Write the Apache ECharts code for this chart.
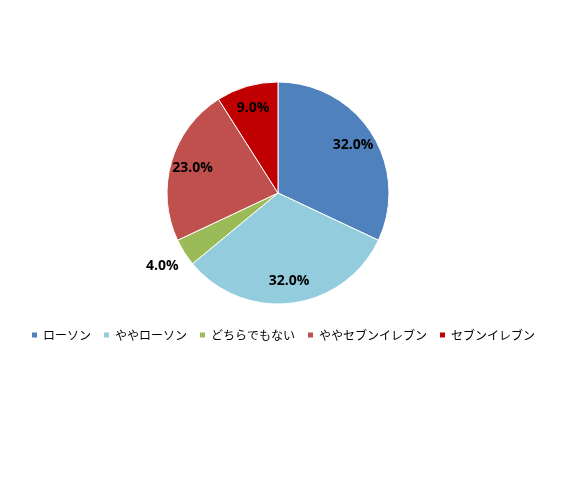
<!DOCTYPE html>
<html>
<head>
<meta charset="utf-8">
<script src="https://cdn.jsdelivr.net/npm/echarts@6/dist/echarts.min.js"></script>
<style>
html,body{margin:0;padding:0;background:#fff;}
#chart{width:568px;height:489px;}
</style>
</head>
<body>
<div id="chart"></div>
<script>
// データ
var categories = ['ローソン', 'ややローソン', 'どちらでもない', 'ややセブンイレブン', 'セブンイレブン'];
var shares = [32.0, 32.0, 4.0, 23.0, 9.0];
var colors = ['#4F81BD', '#93CDDD', '#9BBB59', '#C0504D', '#C00000'];
var outsideIdx = [2]; // 4.0% はパイの外側

var myChart = echarts.init(document.getElementById('chart'));

// ラベル用の透明パイを作る（show: 表示する項目の判定）
function ghostSeries(r, show) {
    var data = [];
    for (var i = 0; i < categories.length; i++) {
        data.push({name: categories[i], value: shares[i], label: {show: show(i)}});
    }
    return {
        type: 'pie',
        center: [278, 193],
        radius: [0, r],
        startAngle: 90,
        clockwise: true,
        silent: true,
        legendHoverLink: false,
        itemStyle: {color: 'rgba(0,0,0,0)'},
        label: {
            position: 'inside',
            fontFamily: 'Open Sans',
            fontWeight: 'bold',
            fontSize: 14,
            color: '#000',
            formatter: function(p){ return p.value.toFixed(1) + '%'; }
        },
        labelLine: {show: false},
        data: data
    };
}

var pieData = [];
for (var i = 0; i < categories.length; i++) {
    pieData.push({name: categories[i], value: shares[i], itemStyle: {color: colors[i]}});
}

var option = {
    animation: false,
    color: colors,
    legend: {
        data: categories,
        left: 25,
        top: 324,
        width: 560,
        itemWidth: 7,
        itemHeight: 7,
        itemGap: 11,
        icon: 'rect',
        textStyle: {fontFamily: 'Noto Sans CJK JP', fontSize: 12, color: '#000'}
    },
    series: [
        {
            type: 'pie',
            center: [278, 193],
            radius: [0, 111],
            startAngle: 90,
            clockwise: true,
            itemStyle: {borderColor: '#fff', borderWidth: 1},
            label: {show: false},
            labelLine: {show: false},
            data: pieData
        },
        ghostSeries(172, function(i){ return outsideIdx.indexOf(i) < 0; }),
        ghostSeries(268, function(i){ return outsideIdx.indexOf(i) >= 0; })
    ]
};

myChart.setOption(option);
</script>
</body>
</html>
